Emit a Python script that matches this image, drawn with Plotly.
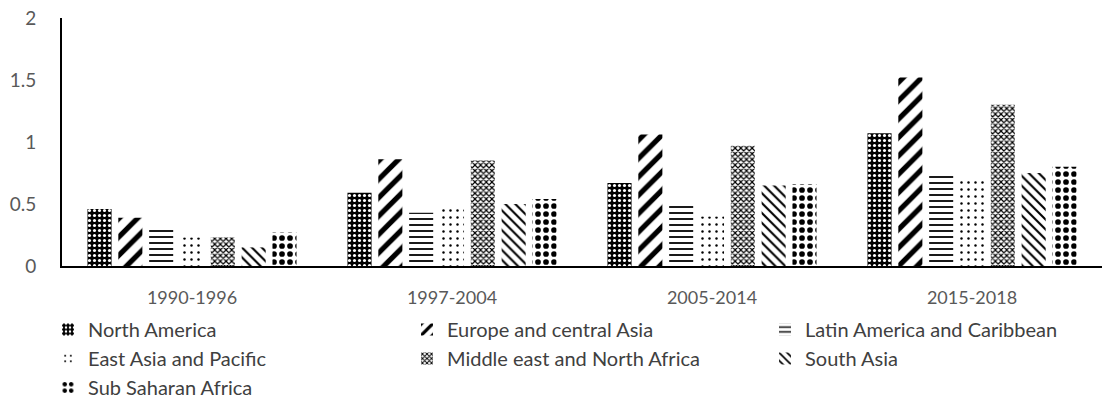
import plotly.graph_objects as go

periods = ["1990-1996", "1997-2004", "2005-2014", "2015-2018"]

regions = [
    "North America",
    "Europe and central Asia",
    "Latin America and Caribbean",
    "East Asia and Pacific",
    "Middle east and North Africa",
    "South Asia",
    "Sub Saharan Africa",
]

north_america = [0.46, 0.59, 0.67, 1.07]
europe_central_asia = [0.39, 0.86, 1.06, 1.52]
latin_america_caribbean = [0.30, 0.43, 0.51, 0.75]
east_asia_pacific = [0.23, 0.48, 0.40, 0.70]
middle_east_north_africa = [0.23, 0.85, 0.97, 1.30]
south_asia = [0.15, 0.50, 0.65, 0.75]
sub_saharan_africa = [0.27, 0.54, 0.66, 0.80]

series = [
    north_america,
    europe_central_asia,
    latin_america_caribbean,
    east_asia_pacific,
    middle_east_north_africa,
    south_asia,
    sub_saharan_africa,
]

# black-and-white fill patterns, one per region
patterns = [
    dict(shape=".", bgcolor="black", fgcolor="white", size=5, solidity=0.3, fillmode="replace"),
    dict(shape="/", bgcolor="white", fgcolor="black", size=13, solidity=0.4, fillmode="replace"),
    dict(shape="-", bgcolor="white", fgcolor="black", size=6, solidity=0.3, fillmode="replace"),
    dict(shape=".", bgcolor="white", fgcolor="black", size=7, solidity=0.1, fillmode="replace"),
    dict(shape="x", bgcolor="white", fgcolor="black", size=4, solidity=0.5, fillmode="replace"),
    dict(shape="\\", bgcolor="white", fgcolor="black", size=7, solidity=0.3, fillmode="replace"),
    dict(shape=".", bgcolor="white", fgcolor="black", size=8, solidity=0.4, fillmode="replace"),
]

# legend column for each region (three columns, filled row by row)
legend_ids = ["legend", "legend2", "legend3", "legend", "legend2", "legend3", "legend"]

FONT = "Lato"
GREY = "#595959"
W, H = 1102, 401

fig = go.Figure()
for name, vals, pat, lg in zip(regions, series, patterns, legend_ids):
    fig.add_trace(
        go.Bar(
            name=name,
            x=periods,
            y=vals,
            legend=lg,
            marker=dict(color="white", line=dict(width=0), pattern=pat),
        )
    )


def legend_column(left_px):
    return dict(
        orientation="v",
        xref="container",
        yref="container",
        x=left_px / W,
        y=1 - 310 / H,
        xanchor="left",
        yanchor="top",
        traceorder="normal",
        font=dict(family=FONT, size=20, color="#404040"),
        bgcolor="rgba(0,0,0,0)",
        borderwidth=0,
    )


fig.update_layout(
    width=W,
    height=H,
    margin=dict(l=62, r=0, t=18, b=135, autoexpand=False),
    paper_bgcolor="white",
    plot_bgcolor="white",
    barmode="group",
    bargap=0.17,
    bargroupgap=0.22,
    font=dict(family=FONT, size=18, color=GREY),
    showlegend=True,
    legend=legend_column(48),
    legend2=legend_column(407),
    legend3=legend_column(765),
)

fig.update_xaxes(
    showline=True,
    linecolor="black",
    linewidth=2,
    showgrid=False,
    ticks="",
    tickangle=0,
    tickfont=dict(family=FONT, size=18, color=GREY),
    ticklabelstandoff=14,
)

fig.update_yaxes(
    range=[0, 2],
    tickvals=[0, 0.5, 1, 1.5, 2],
    ticktext=["0", "0.5", "1", "1.5", "2"],
    showline=True,
    linecolor="black",
    linewidth=2,
    showgrid=False,
    zeroline=False,
    ticks="",
    tickfont=dict(family=FONT, size=19, color=GREY),
    ticklabelstandoff=20,
)

fig.write_html("out.html")
